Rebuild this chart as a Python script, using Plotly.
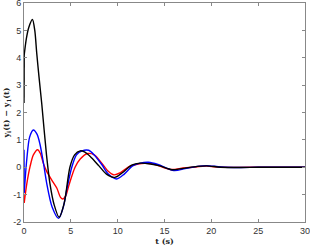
import plotly.graph_objects as go

# Black series
t_black = [0, 0.02, 0.25, 0.5, 0.9, 1.15, 1.35, 1.6, 1.9, 2.4, 2.77, 3.2, 3.75, 4.3, 4.9, 5.4, 6.0, 6.5,
           7.2, 8.0, 8.8, 9.7, 10.5, 11.5, 12.4, 13.5, 14.5, 15.8, 17.0, 18.5, 19.5, 21, 23, 25, 27, 30]
y_black = [2.35, 4.1, 4.7, 5.1, 5.4, 5.0, 4.2, 3.3, 2.3, 0.45, -0.6, -1.35, -1.83, -1.3, 0.0, 0.45, 0.6, 0.55,
           0.35, 0.05, -0.25, -0.37, -0.2, 0.08, 0.15, 0.12, 0.05, -0.09, -0.04, 0.03, 0.05, 0.0, -0.01, 0.0, 0.0, 0.0]

# Blue series
t_blue = [0, 0.02, 0.3, 0.6, 1.0, 1.4, 1.7, 2.1, 2.42, 3.0, 3.7, 4.2, 4.6, 5.1, 5.6, 6.2, 6.9, 7.5,
          8.3, 9.0, 9.9, 10.7, 11.6, 12.4, 13.3, 14.3, 16.0, 17.2, 18.5, 19.5, 21, 23, 25, 30]
y_blue = [0.64, -0.93, 0.3, 1.1, 1.36, 1.2, 0.85, 0.1, -0.58, -1.45, -1.87, -1.45, -0.75, 0.0, 0.45, 0.6, 0.62, 0.45,
          0.1, -0.25, -0.43, -0.25, 0.05, 0.15, 0.18, 0.1, -0.12, -0.05, 0.03, 0.06, 0.01, -0.01, 0.0, 0.0]

# Red series
t_red = [0, 0.02, 0.3, 0.65, 1.0, 1.45, 1.75, 2.06, 2.42, 2.95, 3.5, 3.9, 4.15, 4.45, 4.8, 5.45, 6.0, 6.8, 7.5,
         8.3, 9.0, 9.6, 10.3, 11.2, 12.2, 13.0, 14.0, 15.6, 17.0, 18.5, 19.5, 21, 23, 25, 30]
y_red = [-1.0, -1.3, -0.6, 0.03, 0.45, 0.64, 0.5, 0.15, -0.15, -0.46, -0.76, -1.1, -1.16, -1.05, -0.65, 0.0, 0.3, 0.5, 0.45,
         0.15, -0.15, -0.28, -0.2, 0.02, 0.12, 0.14, 0.1, -0.08, -0.03, 0.02, 0.04, 0.0, -0.005, 0.0, 0.0]

x_ticks = [0, 5, 10, 15, 20, 25, 30]
y_ticks = [-2, -1, 0, 1, 2, 3, 4, 5, 6]

fig = go.Figure()
for t, y, c in [(t_red, y_red, "#ff0000"), (t_blue, y_blue, "#0000ff"), (t_black, y_black, "#000000")]:
    # initial jump at t=0 drawn straight
    fig.add_trace(go.Scatter(x=t[:2], y=y[:2], mode="lines", line=dict(color=c, width=1.4),
                             showlegend=False))
    fig.add_trace(go.Scatter(x=t[1:], y=y[1:], mode="lines",
                             line=dict(color=c, width=1.4, shape="spline", smoothing=0.8),
                             showlegend=False))

axis_common = dict(showline=True, linecolor="#888888", linewidth=1, mirror="ticks", ticks="inside",
                   ticklen=3, tickcolor="#888888", showgrid=False, zeroline=False, automargin=False,
                   ticklabeloverflow="allow",
                   tickfont=dict(family="Liberation Sans, Arial", size=9, color="#333333"))

fig.update_layout(
    width=310, height=249,
    margin=dict(l=24, r=5, t=3, b=27),
    plot_bgcolor="white", paper_bgcolor="white",
    xaxis=dict(range=[-0.001, 30.001], tickvals=x_ticks, ticktext=[str(v) for v in x_ticks],
               title=dict(text="<b>t (s)</b>", standoff=1,
                          font=dict(family="DejaVu Serif", size=8, color="#222222")), **axis_common),
    yaxis=dict(range=[-2.001, 6.001], tickvals=y_ticks, ticktext=[str(v) for v in y_ticks],
               title=dict(text="<b>y<sub>i</sub>(t) − y<sub>1</sub>(t)</b>", standoff=2,
                          font=dict(family="DejaVu Serif", size=8, color="#222222")), **axis_common),
)

fig.write_html("out.html", config={"displayModeBar": False},
               post_script="document.body.style.margin='0';document.body.style.overflow='hidden';")
